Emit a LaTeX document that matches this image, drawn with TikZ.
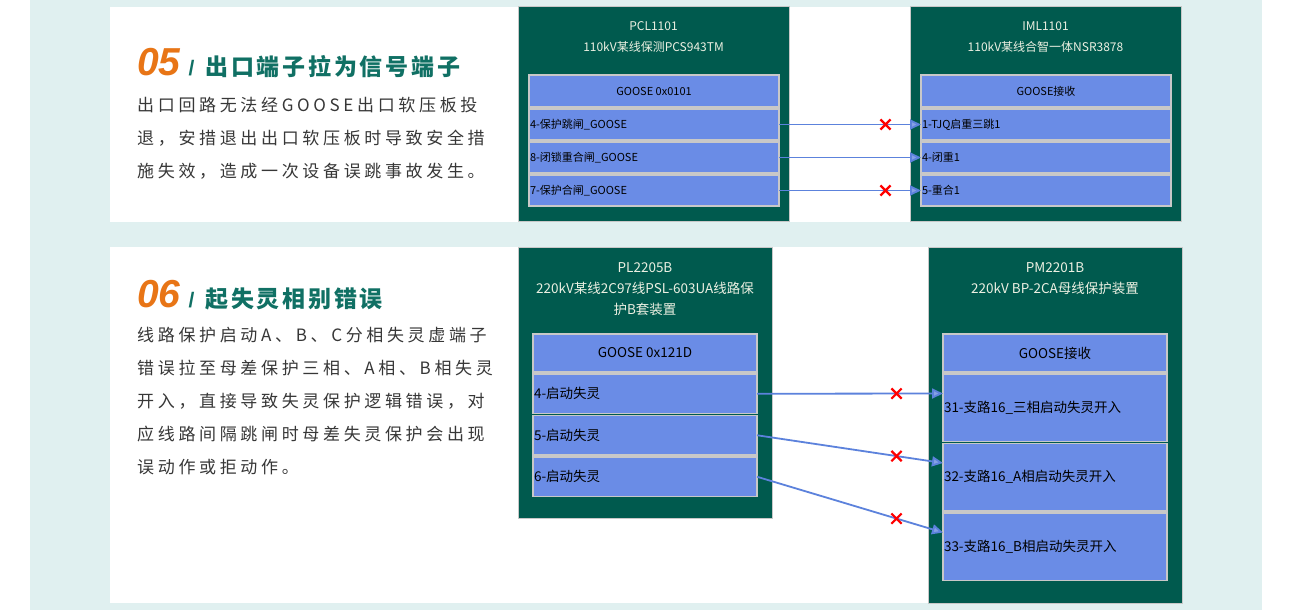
\documentclass[tikz,border=0pt]{standalone}
\usepackage{fontspec}
\setmainfont{Noto Sans CJK SC}
\newfontfamily\bodyfont[LetterSpace=21.5]{Noto Sans CJK SC}
\newfontfamily\headfont[LetterSpace=12]{Noto Sans CJK SC}
\newfontfamily\numfont{Liberation Sans}
\usetikzlibrary{positioning,arrows.meta,shapes.misc}
\definecolor{bgcyan}{RGB}{224,240,240}
\definecolor{devgreen}{RGB}{0,90,78}
\definecolor{rowblue}{RGB}{106,140,230}
\definecolor{rowline}{RGB}{200,200,200}
\definecolor{linkblue}{RGB}{92,130,220}
\definecolor{headteal}{RGB}{16,112,100}
\definecolor{numorange}{RGB}{232,117,22}
\definecolor{bodygray}{RGB}{55,55,55}
\definecolor{titlecream}{RGB}{236,240,226}
\tikzstyle{panel} = [fill=white]
\tikzstyle{devbox} = [rectangle, fill=devgreen, draw=rowline, line width=1pt, anchor=north west, inner sep=0pt, outer sep=0pt]
\tikzstyle{devtitle} = [text=titlecream, align=center, inner sep=0pt]
\tikzstyle{hdrow} = [rectangle, fill=rowblue, draw=rowline, line width=1.5pt, inner sep=0pt, outer sep=0pt, text=black]
\tikzstyle{sigrow} = [hdrow, align=left, inner xsep=1pt]
\tikzstyle{rowa} = [sigrow, text width=248pt, minimum height=31pt, font=\fontsize{11}{13}\selectfont]
\tikzstyle{rowb} = [sigrow, text width=222pt, minimum height=39.5pt, font=\fontsize{13.5}{15}\selectfont]
\tikzstyle{rowc} = [sigrow, text width=222pt, minimum height=67.5pt, font=\fontsize{13.5}{15}\selectfont]
\tikzstyle{bodytext} = [anchor=north west, inner sep=0pt, align=left, text=bodygray, font=\bodyfont\fontsize{17}{33}\selectfont]
\tikzstyle{headline} = [anchor=base west, inner sep=0pt]
\tikzstyle{link} = [draw=linkblue, line width=1.8pt, -{Triangle[length=11pt,width=10pt,fill=linkblue!75!white]}]
\tikzstyle{xmark} = [cross out, draw=red, line width=2.2pt, minimum size=8pt, inner sep=0pt]
\newcommand{\headno}[1]{{\numfont\bfseries\itshape\color{numorange}\fontsize{39}{39}\selectfont #1}\hspace{8pt}{\numfont\bfseries\color{headteal}\fontsize{21}{21}\selectfont /}\hspace{11pt}}
\newcommand{\headtxt}[1]{{\headfont\bfseries\color{headteal}\fontsize{23}{23}\selectfont #1}}

\begin{document}
\begin{tikzpicture}[x=1pt, y=-1pt]
\useasboundingbox (0,0) rectangle (1300,610);
\fill[white] (0,0) rectangle (1300,610);
\fill[bgcyan] (30,0) rectangle (1262,610);
\fill[panel] (110,7) rectangle (1181,222);
\fill[panel] (110,247) rectangle (1182,603);

% 05
\node[headline] (hd05) at (137,75) {\headno{05}\headtxt{出口端子拉为信号端子}};
\node[bodytext] (txt05) at (137,97) {出口回路无法经GOOSE出口软压板投\\退，安措退出出口软压板时导致安全措\\施失效，造成一次设备误跳事故发生。};

\node[devbox, minimum width=271pt, minimum height=214pt] (pcl) at (518,7) {};
\node[devtitle, font=\fontsize{12}{21}\selectfont] (pcl-t) at ([yshift=-30.5pt]pcl.north) {PCL1101\\110kV某线保测PCS943TM};
\node[hdrow, minimum width=250pt, minimum height=32pt, anchor=north west, font=\fontsize{11}{13}\selectfont] (pcl-hd) at (529,75) {GOOSE 0x0101};
\node[rowa, below=2pt of pcl-hd] (pcl-4) {4-保护跳闸\_GOOSE};
\node[rowa, below=2pt of pcl-4] (pcl-8) {8-闭锁重合闸\_GOOSE};
\node[rowa, below=2pt of pcl-8] (pcl-7) {7-保护合闸\_GOOSE};

\node[devbox, minimum width=271pt, minimum height=214pt] (iml) at (910,7) {};
\node[devtitle, font=\fontsize{12}{21}\selectfont] (iml-t) at ([yshift=-30.5pt]iml.north) {IML1101\\110kV某线合智一体NSR3878};
\node[hdrow, minimum width=250pt, minimum height=32pt, anchor=north west, font=\fontsize{11}{13}\selectfont] (iml-hd) at (921,75) {GOOSE接收};
\node[rowa, below=2pt of iml-hd] (iml-1) {1-TJQ启重三跳1};
\node[rowa, below=2pt of iml-1] (iml-4) {4-闭重1};
\node[rowa, below=2pt of iml-4] (iml-5) {5-重合1};

\draw[link] (pcl-4.east) -- node[xmark, pos=.75] {} (iml-1.west);
\draw[link] (pcl-8.east) -- (iml-4.west);
\draw[link] (pcl-7.east) -- node[xmark, pos=.75] {} (iml-5.west);

% 06
\node[headline] (hd06) at (137,307) {\headno{06}\headtxt{起失灵相别错误}};
\node[bodytext] (txt06) at (137,326.5) {线路保护启动A、B、C分相失灵虚端子\\错误拉至母差保护三相、A相、B相失灵\\开入，直接导致失灵保护逻辑错误，对\\应线路间隔跳闸时母差失灵保护会出现\\误动作或拒动作。};

\node[devbox, minimum width=254pt, minimum height=271pt] (pl) at (518,247) {};
\node[devtitle, font=\fontsize{13.5}{21}\selectfont] (pl-t) at ([yshift=-42pt]pl.north) {PL2205B\\220kV某线2C97线PSL-603UA线路保\\护B套装置};
\node[hdrow, minimum width=224pt, minimum height=38pt, anchor=north west, font=\fontsize{13.5}{15}\selectfont] (pl-hd) at (533,334) {GOOSE 0x121D};
\node[rowb, below=2pt of pl-hd] (pl-4) {4-启动失灵};
\node[rowb, below=2pt of pl-4] (pl-5) {5-启动失灵};
\node[rowb, below=2pt of pl-5] (pl-6) {6-启动失灵};

\node[devbox, minimum width=254pt, minimum height=356pt] (pm) at (928,247) {};
\node[devtitle, font=\fontsize{13.5}{21}\selectfont] (pm-t) at ([yshift=-31.5pt]pm.north) {PM2201B\\220kV BP-2CA母线保护装置};
\node[hdrow, minimum width=224pt, minimum height=38pt, anchor=north west, font=\fontsize{13.5}{15}\selectfont] (pm-hd) at (943,334) {GOOSE接收};
\node[rowc, below=2pt of pm-hd] (pm-31) {31-支路16\_三相启动失灵开入};
\node[rowc, below=2pt of pm-31] (pm-32) {32-支路16\_A相启动失灵开入};
\node[rowc, below=2pt of pm-32] (pm-33) {33-支路16\_B相启动失灵开入};

\coordinate (pm-31-in) at ([yshift=-19.5pt]pm-31.north west);
\coordinate (pm-32-in) at ([yshift=-19.5pt]pm-32.north west);
\coordinate (pm-33-in) at ([yshift=-19.5pt]pm-33.north west);
\draw[link] (pl-4.east) -- node[xmark, pos=.75] {} (pm-31-in);
\draw[link] (pl-5.east) -- node[xmark, pos=.75] {} (pm-32-in);
\draw[link] (pl-6.east) -- node[xmark, pos=.75] {} (pm-33-in);
\end{tikzpicture}
\end{document}
